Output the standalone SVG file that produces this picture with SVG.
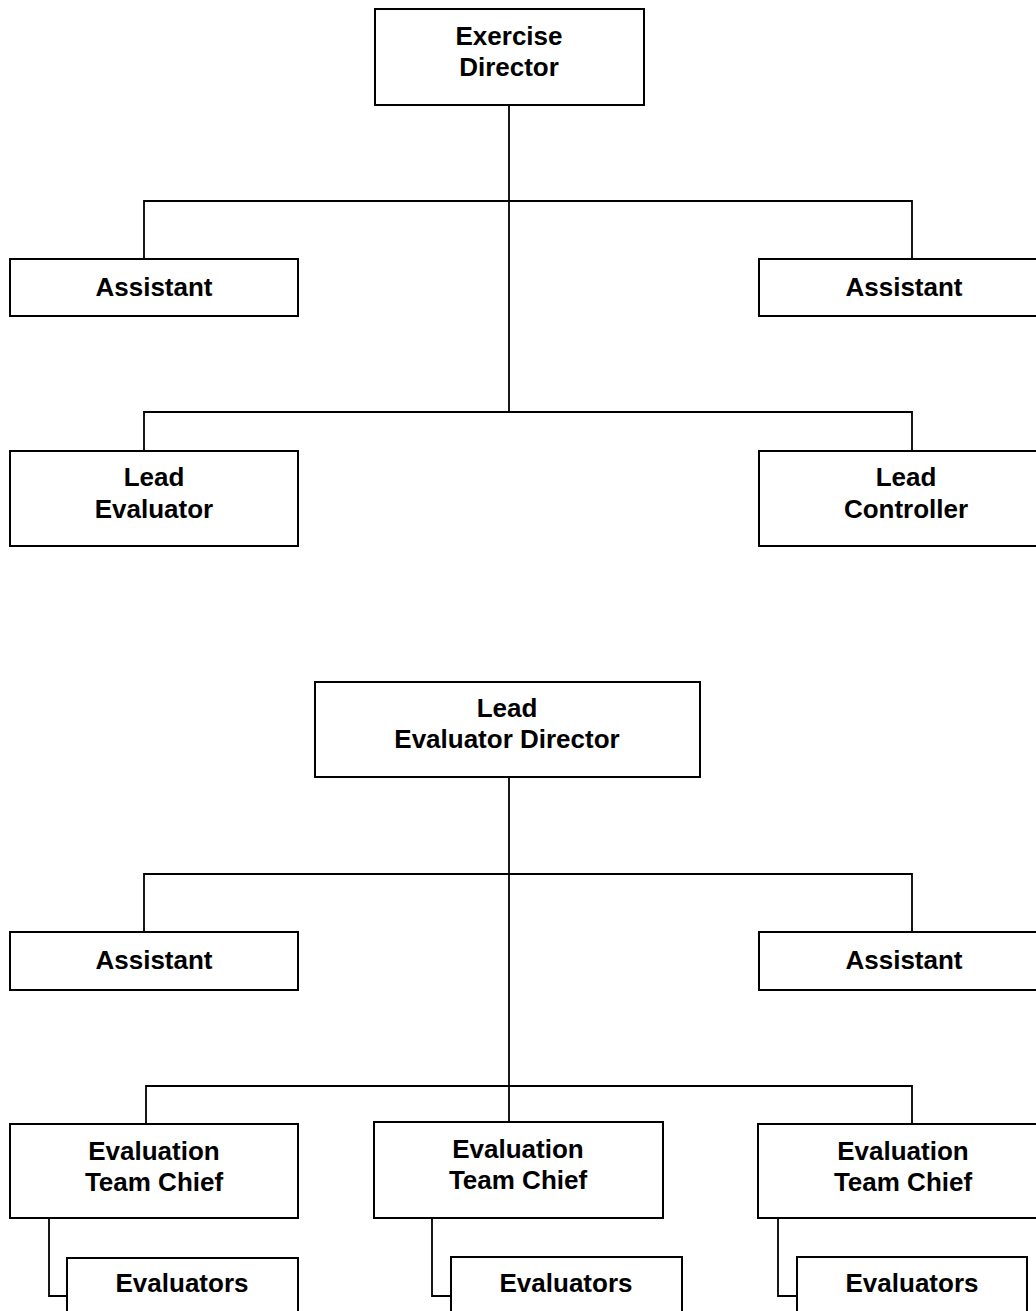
<svg xmlns="http://www.w3.org/2000/svg" width="1036" height="1311" viewBox="0 0 1036 1311">
<style>
.box{fill:#fff;stroke:#000;stroke-width:2}
.ln{fill:none;stroke:#000;stroke-width:1.8}
text{font-family:"Liberation Sans",Arial,sans-serif;font-weight:bold;font-size:26px;text-anchor:middle;fill:#000}
</style>
<rect width="1036" height="1311" fill="#fff"/>
<g id="connectors">
<path class="ln" d="M509 105V412M144 259V201H912V259M144 451V412H912V451"/>
<path class="ln" d="M509 777V1122M144 932V874H912V932M146 1124V1086H912V1124"/>
<path class="ln" d="M49 1218V1296H67M432 1218V1296H451M778 1218V1296H797"/>
</g>
<g id="exercise-director"><rect class="box" x="375" y="9" width="269" height="96"/><text x="509" y="45">Exercise</text><text x="509" y="76">Director</text></g>
<g id="assistant-1"><rect class="box" x="10" y="259" width="288" height="57"/><text x="154" y="296">Assistant</text></g>
<g id="assistant-2"><rect class="box" x="759" y="259" width="290" height="57"/><text x="904" y="296">Assistant</text></g>
<g id="lead-evaluator"><rect class="box" x="10" y="451" width="288" height="95"/><text x="154" y="486">Lead</text><text x="154" y="518">Evaluator</text></g>
<g id="lead-controller"><rect class="box" x="759" y="451" width="290" height="95"/><text x="906" y="486">Lead</text><text x="906" y="518">Controller</text></g>
<g id="lead-evaluator-director"><rect class="box" x="315" y="682" width="385" height="95"/><text x="507" y="717">Lead</text><text x="507" y="748">Evaluator Director</text></g>
<g id="assistant-3"><rect class="box" x="10" y="932" width="288" height="58"/><text x="154" y="969">Assistant</text></g>
<g id="assistant-4"><rect class="box" x="759" y="932" width="290" height="58"/><text x="904" y="969">Assistant</text></g>
<g id="etc-1"><rect class="box" x="10" y="1124" width="288" height="94"/><text x="154" y="1160">Evaluation</text><text x="154" y="1191">Team Chief</text></g>
<g id="etc-2"><rect class="box" x="374" y="1122" width="289" height="96"/><text x="518" y="1158">Evaluation</text><text x="518" y="1189">Team Chief</text></g>
<g id="etc-3"><rect class="box" x="758" y="1124" width="290" height="94"/><text x="903" y="1160">Evaluation</text><text x="903" y="1191">Team Chief</text></g>
<g id="evaluators-1"><rect class="box" x="67" y="1258" width="231" height="70"/><text x="182" y="1292">Evaluators</text></g>
<g id="evaluators-2"><rect class="box" x="451" y="1257" width="231" height="70"/><text x="566" y="1292">Evaluators</text></g>
<g id="evaluators-3"><rect class="box" x="797" y="1257" width="230" height="70"/><text x="912" y="1292">Evaluators</text></g>
</svg>
